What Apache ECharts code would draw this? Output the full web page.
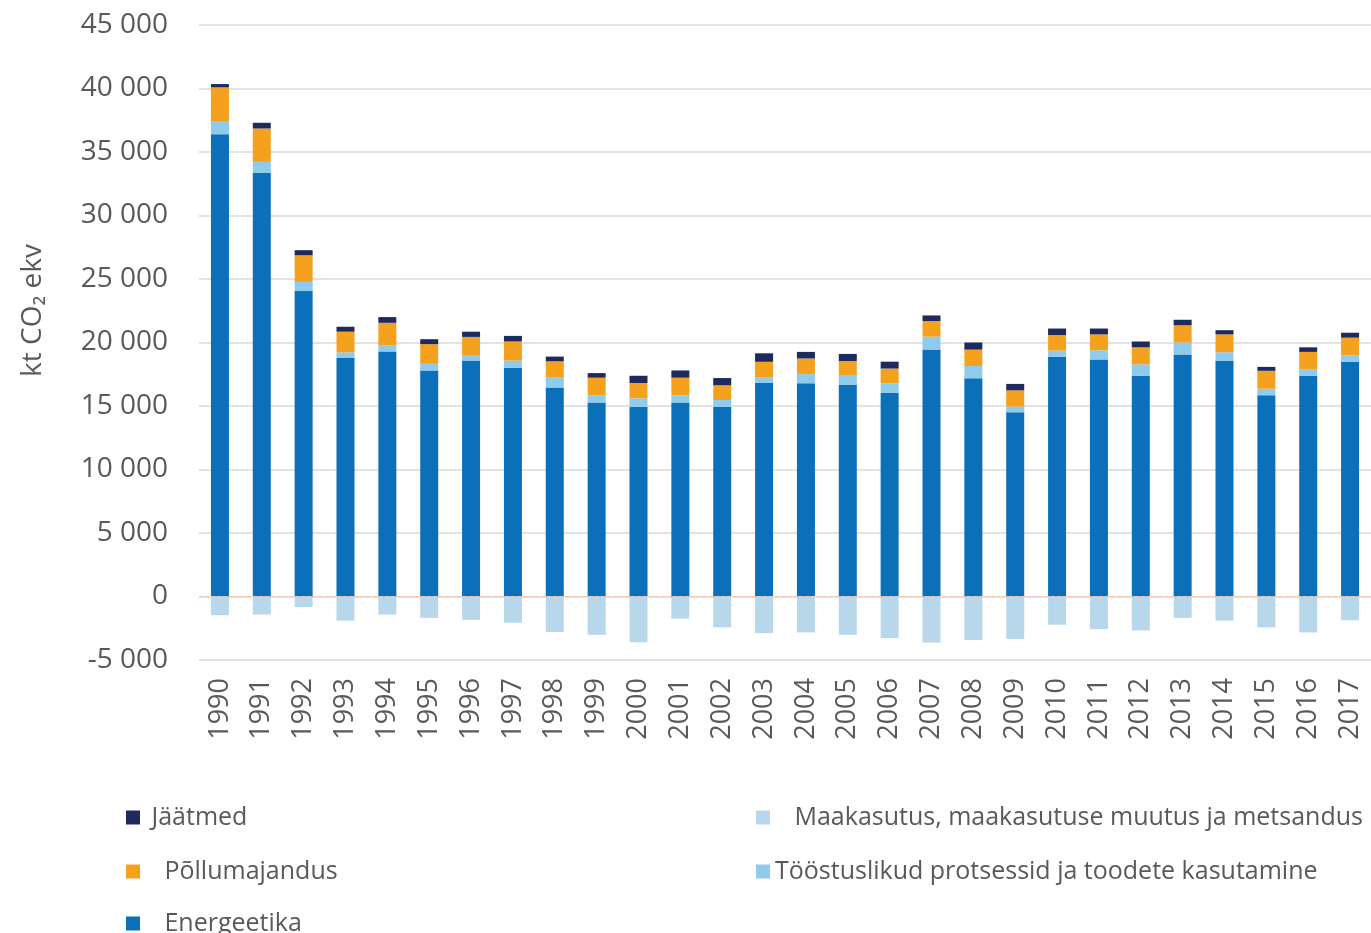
<!DOCTYPE html>
<html>
<head>
<meta charset="utf-8">
<script src="https://cdn.jsdelivr.net/npm/echarts@6/dist/echarts.min.js"></script>
<style>
html,body{margin:0;padding:0;background:#fff;}
#chart{width:1371px;height:933px;}
</style>
</head>
<body>
<div id="chart"></div>
<script>
const years = ['1990','1991','1992','1993','1994','1995','1996','1997','1998','1999','2000','2001','2002','2003','2004','2005','2006','2007','2008','2009','2010','2011','2012','2013','2014','2015','2016','2017'];
const energeetika = [36400,33350,24050,18780,19300,17800,18580,18010,16450,15280,14950,15280,14950,16810,16790,16670,16030,19440,17180,14510,18870,18670,17380,19050,18540,15850,17380,18490];
const toostus = [980,870,720,440,490,520,380,570,780,570,650,570,520,470,720,770,760,1020,970,440,490,710,900,950,690,510,520,510];
const pollumajandus = [2710,2630,2100,1630,1760,1550,1480,1500,1290,1380,1210,1380,1160,1200,1230,1100,1160,1230,1290,1280,1230,1260,1340,1360,1410,1410,1360,1380];
const jaatmed = [260,450,400,390,450,390,410,440,370,360,570,570,570,670,520,560,540,440,560,510,510,460,460,430,330,310,360,390];
const maakasutus = [-1470,-1420,-830,-1900,-1420,-1680,-1840,-2060,-2800,-3020,-3600,-1740,-2430,-2880,-2830,-3020,-3280,-3630,-3420,-3340,-2220,-2560,-2670,-1680,-1900,-2430,-2830,-1870];

const FONT = '"Open Sans", sans-serif';
const TXT = '#595959';
const C = {
  energ: '#0b6fba',
  toost: '#8ecbec',
  pollu: '#f4a21e',
  jaat: '#1e2a5e',
  maak: '#b8d7ea'
};

const chart = echarts.init(document.getElementById('chart'), null, {renderer:'canvas'});

function leg(name, left, top, prefix) {
  return {
    data: [name], left: left, top: top, orient: 'horizontal',
    icon: 'rect', itemWidth: 14, itemHeight: 14, selectedMode: false,
    formatter: (n) => (prefix || '') + n,
    textStyle: {fontFamily: FONT, fontSize: 25, color: TXT}
  };
}

function bar(name, data, color) {
  return {
    name: name, type: 'bar', stack: 'total', data: data, barWidth: 18,
    itemStyle: {color: color}, emphasis: {disabled: true}
  };
}

const series = [
  bar('Energeetika', energeetika, C.energ),
  bar('Tööstuslikud protsessid ja toodete kasutamine', toostus, C.toost),
  bar('Põllumajandus', pollumajandus, C.pollu),
  bar('Jäätmed', jaatmed, C.jaat),
  bar('Maakasutus, maakasutuse muutus ja metsandus', maakasutus, C.maak)
];
series[0].markLine = {
  silent: true, symbol: 'none', label: {show: false},
  lineStyle: {color: '#f2c6b4', type: 'dashed', width: 1},
  data: [{yAxis: 0}]
};

chart.setOption({
  animation: false,
  backgroundColor: '#ffffff',
  grid: {left: 199, right: -7, top: 25, bottom: 273, containLabel: false},
  legend: [
    leg('Jäätmed', 121, 800, ' '),
    leg('Põllumajandus', 121, 854, '   '),
    leg('Energeetika', 121, 906, '   '),
    leg('Maakasutus, maakasutuse muutus ja metsandus', 751, 800, '   '),
    leg('Tööstuslikud protsessid ja toodete kasutamine', 751, 854, '')
  ],
  xAxis: {
    type: 'category', data: years,
    axisLine: {show: false, onZero: false},
    axisTick: {show: false},
    axisLabel: {rotate: 90, margin: 18, fontFamily: FONT, fontSize: 27, color: TXT}
  },
  yAxis: {
    type: 'value', min: -5000, max: 45000, interval: 5000,
    name: 'kt CO₂ ekv', nameLocation: 'middle', nameGap: 152,
    nameTextStyle: {fontFamily: FONT, fontSize: 28, color: TXT, padding: [0, 0, 0, 64]},
    axisLine: {show: false}, axisTick: {show: false},
    axisLabel: {
      margin: 31, fontFamily: FONT, fontSize: 28, color: TXT,
      formatter: (v) => {
        const s = Math.abs(v).toString();
        const f = s.length > 3 ? s.slice(0, s.length - 3) + ' ' + s.slice(-3) : s;
        return (v < 0 ? '-' : '') + f;
      }
    },
    splitLine: {lineStyle: {color: '#d9d9d9', width: 1.5}}
  },
  series: series
});
</script>
</body>
</html>
